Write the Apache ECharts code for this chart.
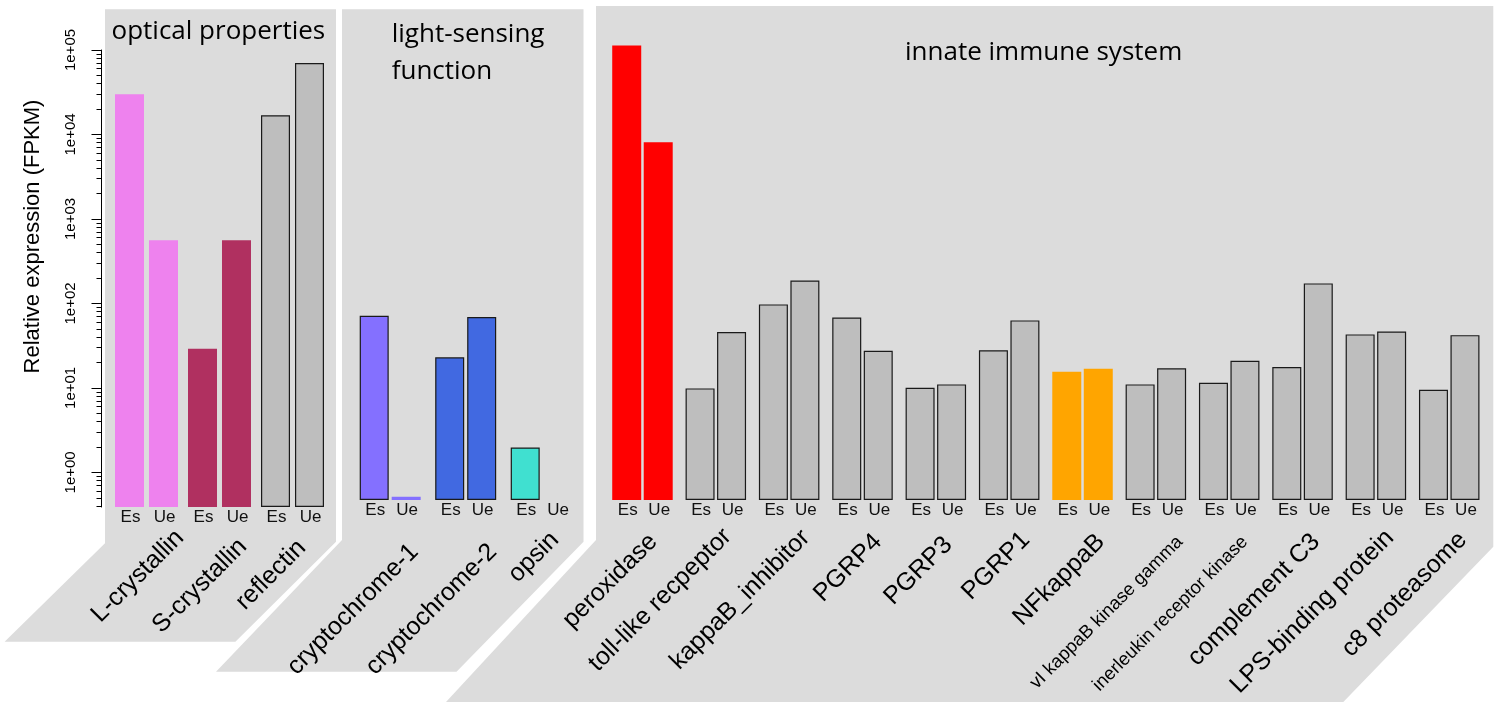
<!DOCTYPE html>
<html><head><meta charset="utf-8">
<script src="https://cdn.jsdelivr.net/npm/echarts@6.0.0/dist/echarts.min.js"></script>
<style>html,body{margin:0;padding:0;background:#fff}#c{width:1499px;height:702px}</style>
</head><body><div id="c"></div>
<script>
// ---------------- data ----------------
const opticalGenes = ['L-crystallin', 'S-crystallin', 'reflectin'];
const opticalEs = [30000, 29, 16900];
const opticalUe = [560, 560, 70300];

const lightGenes = ['cryptochrome-1', 'cryptochrome-2', 'opsin'];
const lightEs = [59, 19, 1.63];
const lightUe = [0.425, 57, 0];

const immuneGenes = ['peroxidase', 'toll-like recpeptor', 'kappaB_inhibitor', 'PGRP4', 'PGRP3', 'PGRP1',
  'NFkappaB', 'vI kappaB kinase gamma', 'inerleukin receptor kinase', 'complement C3', 'LPS-binding protein', 'c8 proteasome'];
const immuneEs = [93300, 8.15, 80.4, 56.4, 8.28, 23.1, 12.8, 9.09, 9.5, 14.6, 35.5, 7.85];
const immuneUe = [6700, 37.8, 154.6, 22.7, 9.09, 52.0, 13.9, 14.1, 17.3, 142.6, 38.5, 34.8];

const decades = [0, 1, 2, 3, 4, 5];
const tickLabels = ['1e+00', '1e+01', '1e+02', '1e+03', '1e+04', '1e+05'];
const sampleNames = ['Es', 'Ue'];
const panelTitles = ['optical properties', 'light-sensing', 'function', 'innate immune system'];
const yTitle = 'Relative expression (FPKM)';

// ---------------- styles ----------------
const V = '#EE82EE', M = '#B03060', G = '#BEBEBE', LS = '#8470FF', RB = '#4169E1', TQ = '#40E0D0', RD = '#FF0000', OR = '#FFA500';
const opticalColors = [V, M, G];
const lightColors = [LS, RB, TQ];
const immuneColors = [RD, G, G, G, G, G, OR, G, G, G, G, G];
const noBorder = [V, M, RD, OR];

// gene label end offsets (px) relative to category centre at the baseline
const opticalShift = [33.5, 23.5, 9.5], opticalDrop = [27.0, 35.7, 37.0];
const lightShift = [24.2, 27.2, 13.8], lightDrop = [48, 48, 36];
const immuneShift = [11.1, 11.7, 16.8, 15.5, 12.5, 16.8, 18.5, 24.1, 15.8, 13.4, 14.1, 13.8];
const immuneDrop = [37.7, 32.7, 34.0, 38, 41, 36, 38, 39, 39, 38, 34, 36];
const opticalFont = [25, 25, 25], lightFont = [25, 25, 25];
const immuneFont = [25, 25, 25, 25, 25, 25, 25, 18.5, 18.5, 25, 25, 25];

const LOGMIN = -0.41, LOGMAX = 5.0;
const toAxis = v => v > 0 ? Math.log10(v) - LOGMIN : 0;

const FONT = 'Liberation Sans, Arial, sans-serif';

function barData(vals, colors) {
  return vals.map((v, i) => {
    let bw = noBorder.indexOf(colors[i]) >= 0 ? 0 : 1.2;
    if (v < 1) bw = 0;
    return { value: toAxis(v), itemStyle: { color: colors[i], borderColor: '#1a1a1a', borderWidth: bw } };
  });
}

const major = decades.map(d => d - LOGMIN);
const minor = [];
for (let d = -1; d <= 4; d++) for (let k = 2; k <= 9; k++) {
  const v = d + Math.log10(k);
  if (v >= LOGMIN && v <= LOGMAX) minor.push(v - LOGMIN);
}

const grids = [
  { left: 110, top: 50, width: 219, height: 457, gap: '17.2%' },
  { left: 352.45, top: 43, width: 226.5, height: 457, gap: '10.3%' },
  { left: 605.8, top: 43, width: 880.1, height: 457, gap: '8.6%' }
];
const geneSets = [
  [opticalGenes, opticalShift, opticalDrop, opticalFont],
  [lightGenes, lightShift, lightDrop, lightFont],
  [immuneGenes, immuneShift, immuneDrop, immuneFont]
];

const xAxes = grids.map((g, i) => ({
  type: 'category', gridIndex: i, data: geneSets[i][0],
  axisLine: { show: false }, axisTick: { show: false }, splitLine: { show: false },
  axisLabel: { show: false }
}));

const yRange = { min: 0, max: LOGMAX - LOGMIN };
const yAxes = [
  Object.assign({
    type: 'value', gridIndex: 0, position: 'left', offset: 9, splitLine: { show: false },
    axisLine: { show: true, lineStyle: { color: '#000', width: 1 } },
    axisTick: { show: true, customValues: major, length: 9.5, lineStyle: { color: '#000', width: 1 } },
    axisLabel: {
      show: true, customValues: major, rotate: 90, margin: 23, fontSize: 15, fontFamily: FONT, color: '#000',
      formatter: val => tickLabels[decades.indexOf(Math.round(val + LOGMIN))]
    }
  }, yRange),
  Object.assign({
    type: 'value', gridIndex: 0, position: 'left', offset: 9, splitLine: { show: false },
    axisLine: { show: false },
    axisTick: { show: true, customValues: minor, length: 4.5, lineStyle: { color: '#000', width: 1 } },
    axisLabel: { show: false }
  }, yRange),
  Object.assign({ type: 'value', gridIndex: 1, show: false, splitLine: { show: false } }, yRange),
  Object.assign({ type: 'value', gridIndex: 2, show: false, splitLine: { show: false } }, yRange)
];

const allVals = [[opticalEs, opticalUe, opticalColors], [lightEs, lightUe, lightColors], [immuneEs, immuneUe, immuneColors]];
const yIdx = [0, 2, 3];
const series = [];
allVals.forEach((set, gi) => {
  [0, 1].forEach(si => {
    series.push({
      type: 'bar', name: sampleNames[si], xAxisIndex: gi, yAxisIndex: yIdx[gi],
      barWidth: 29, barGap: grids[gi].gap, z: 3,
      data: barData(set[si], set[2]),
      label: {
        show: true, position: ['50%', '100%'], align: 'center', verticalAlign: 'top', offset: [1, 2],
        formatter: sampleNames[si], fontSize: 17, fontFamily: FONT, color: '#111'
      }
    });
  });
  // rotated gene names
  const gs = geneSets[gi];
  series.push({
    type: 'custom', xAxisIndex: gi, yAxisIndex: yIdx[gi], z: 5, clip: false, silent: true,
    data: gs[0].map((g, i) => [i, 0]),
    renderItem: (params, api) => {
      const i = api.value(0);
      const pt = api.coord([i, 0]);
      return {
        type: 'text', x: pt[0] + gs[1][i], y: pt[1] + gs[2][i], rotation: Math.PI / 4,
        style: { text: gs[0][i], fontSize: gs[3][i], fontFamily: FONT, fill: '#000', align: 'right', verticalAlign: 'middle' }
      };
    }
  });
});

const panelFill = '#DCDCDC';
const graphics = [
  { type: 'polygon', z: -10, silent: true, shape: { points: [[105, 9.3], [336, 9.3], [336, 541.7], [235.4, 641.7], [4.6, 641.7], [105, 543.3]] }, style: { fill: panelFill } },
  { type: 'polygon', z: -10, silent: true, shape: { points: [[342, 9.3], [583.5, 9.3], [583.5, 541.7], [456.5, 671.7], [216, 671.7], [342, 540]] }, style: { fill: panelFill } },
  { type: 'polygon', z: -10, silent: true, shape: { points: [[596, 6], [1493.3, 6], [1493.3, 546.7], [1343.3, 702], [446, 702], [596, 540]] }, style: { fill: panelFill } },
  { type: 'text', z: 100, x: 111.5, y: 31.5, style: { text: panelTitles[0], fontSize: 26, fontFamily: 'Open Sans', fill: '#000', align: 'left', verticalAlign: 'middle' } },
  { type: 'text', z: 100, x: 391.7, y: 34.7, style: { text: panelTitles[1], fontSize: 26, fontFamily: 'Open Sans', fill: '#000', align: 'left', verticalAlign: 'middle' } },
  { type: 'text', z: 100, x: 391.7, y: 71.4, style: { text: panelTitles[2], fontSize: 26, fontFamily: 'Open Sans', fill: '#000', align: 'left', verticalAlign: 'middle' } },
  { type: 'text', z: 100, x: 905, y: 53, style: { text: panelTitles[3], fontSize: 26, fontFamily: 'Open Sans', fill: '#000', align: 'left', verticalAlign: 'middle' } },
  { type: 'text', z: 100, x: 33, y: 236.5, rotation: Math.PI / 2, style: { text: yTitle, fontSize: 22, fontFamily: FONT, fill: '#000', align: 'center', verticalAlign: 'middle' } }
];

const chart = echarts.init(document.getElementById('c'), null, { renderer: 'canvas' });
chart.setOption({
  animation: false,
  backgroundColor: '#fff',
  grid: grids.map(g => ({ left: g.left, top: g.top, width: g.width, height: g.height, containLabel: false, outerBoundsMode: 'none' })),
  xAxis: xAxes,
  yAxis: yAxes,
  series: series,
  graphic: { elements: graphics }
});
</script></body></html>
